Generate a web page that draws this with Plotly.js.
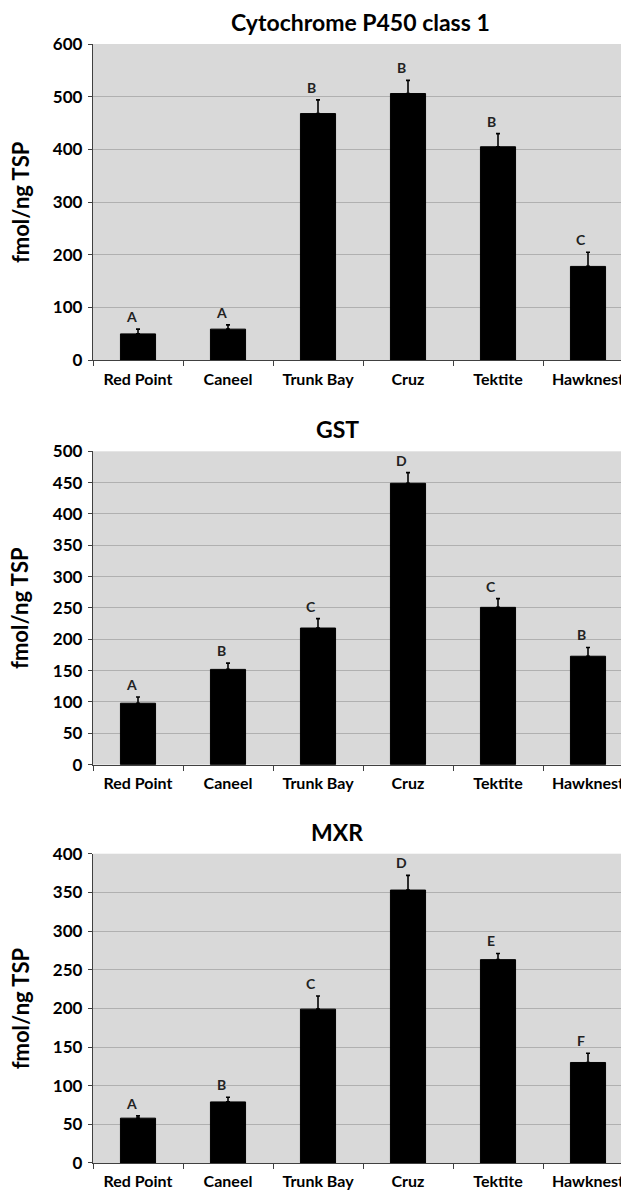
<!DOCTYPE html>
<html>
<head>
<meta charset="utf-8">
<script src="https://cdn.plot.ly/plotly-3.0.1.min.js"></script>
<style>
  html, body { margin: 0; padding: 0; background: #fff; overflow: hidden; }
  #chart { width: 640px; height: 1191px; }
</style>
</head>
<body>
<div id="chart"></div>
<script>
// Sampling sites (x categories shared by all three panels)
const sites = ['Red Point', 'Caneel', 'Trunk Bay', 'Cruz', 'Tektite', 'Hawknest'];

// Cytochrome P450 class 1 (fmol/ng TSP)
const p450Mean = [50, 59, 468, 506, 405, 178];
const p450Err = [9, 8, 26, 25, 25, 27];
const p450Groups = ['A', 'A', 'B', 'B', 'B', 'C'];

// GST (fmol/ng TSP)
const gstMean = [98, 152, 218, 449, 251, 173];
const gstErr = [10, 10, 15, 17, 14, 14];
const gstGroups = ['A', 'B', 'C', 'D', 'C', 'B'];

// MXR (fmol/ng TSP)
const mxrMean = [58, 79, 199, 353, 263, 130];
const mxrErr = [3, 6, 17, 19, 8, 12];
const mxrGroups = ['A', 'B', 'C', 'D', 'E', 'F'];

const panels = [
  { title: 'Cytochrome P450 class 1', mean: p450Mean, err: p450Err, groups: p450Groups, max: 600, dtick: 100, titleX: 0.496 },
  { title: 'GST', mean: gstMean, err: gstErr, groups: gstGroups, max: 500, dtick: 50, titleX: 0.452 },
  { title: 'MXR', mean: mxrMean, err: mxrErr, groups: mxrGroups, max: 400, dtick: 50, titleX: 0.452 }
];

// vertical placement of the three plot areas (paper fractions), top panel first
const domains = [[0.7174, 1.0], [0.356, 0.636], [0.0, 0.2764]];

const FONT = 'Lato, "Open Sans", sans-serif';
const traces = [];
const annotations = [];
const layout = {
  width: 640,
  height: 1191,
  margin: { l: 93, r: 7, t: 44, b: 28 },
  paper_bgcolor: '#ffffff',
  plot_bgcolor: '#d9d9d9',
  showlegend: false,
  bargap: 0.61,
  font: { family: FONT, color: '#000' },
  annotations: annotations
};

panels.forEach((p, i) => {
  const n = i === 0 ? '' : String(i + 1);
  const xa = 'x' + n, ya = 'y' + n;

  traces.push({
    type: 'bar',
    x: sites,
    y: p.mean,
    xaxis: xa,
    yaxis: ya,
    marker: { color: '#000000', line: { color: '#000000', width: 1 } },
    error_y: {
      type: 'data',
      symmetric: false,
      array: p.err,
      arrayminus: p.err.map(() => 0),
      color: '#000000',
      thickness: 1.6,
      width: 2
    },
    hoverinfo: 'x+y'
  });

  layout['xaxis' + n] = {
    anchor: ya,
    type: 'category',
    domain: [0, 1],
    range: [-0.5, 5.5],
    showgrid: false,
    showline: true,
    linecolor: '#404040',
    linewidth: 1.2,
    ticks: 'outside',
    tickson: 'boundaries',
    ticklen: 5,
    tickcolor: '#404040',
    ticklabelstandoff: 4,
    tickfont: { family: FONT, size: 16, weight: 'bold', color: '#000' },
    fixedrange: true
  };

  layout['yaxis' + n] = {
    anchor: xa,
    domain: domains[i],
    range: [0, p.max],
    dtick: p.dtick,
    tick0: 0,
    showgrid: true,
    gridcolor: '#b0b0b0',
    gridwidth: 1,
    zeroline: false,
    showline: true,
    linecolor: '#404040',
    linewidth: 1.2,
    ticks: 'outside',
    ticklen: 4,
    tickcolor: '#404040',
    ticklabelstandoff: 2,
    tickfont: { family: FONT, size: 17, weight: 'bold', color: '#000' },
    fixedrange: true
  };

  // panel title
  annotations.push({
    xref: 'paper', yref: 'paper',
    x: p.titleX, y: domains[i][1],
    xanchor: 'center', yanchor: 'bottom',
    yshift: 6,
    text: p.title,
    showarrow: false,
    font: { family: FONT, size: 23, weight: 'bold', color: '#000' }
  });

  // y-axis title
  annotations.push({
    xref: 'paper', yref: 'paper',
    x: (20 - 93) / 540, y: (domains[i][0] + domains[i][1]) / 2,
    xanchor: 'center', yanchor: 'middle',
    text: 'fmol/ng TSP',
    textangle: -90,
    showarrow: false,
    font: { family: FONT, size: 22, weight: 'bold', color: '#000' }
  });

  // significance group letters above each error bar
  p.groups.forEach((g, k) => {
    annotations.push({
      xref: xa, yref: ya,
      x: sites[k], y: p.mean[k] + p.err[k],
      xanchor: 'center', yanchor: 'bottom',
      xshift: -7, yshift: 2,
      text: g,
      showarrow: false,
      font: { family: FONT, size: 14, weight: 'bold', color: '#222' }
    });
  });
});

Plotly.newPlot('chart', traces, layout, { displayModeBar: false, staticPlot: true });
</script>
</body>
</html>
